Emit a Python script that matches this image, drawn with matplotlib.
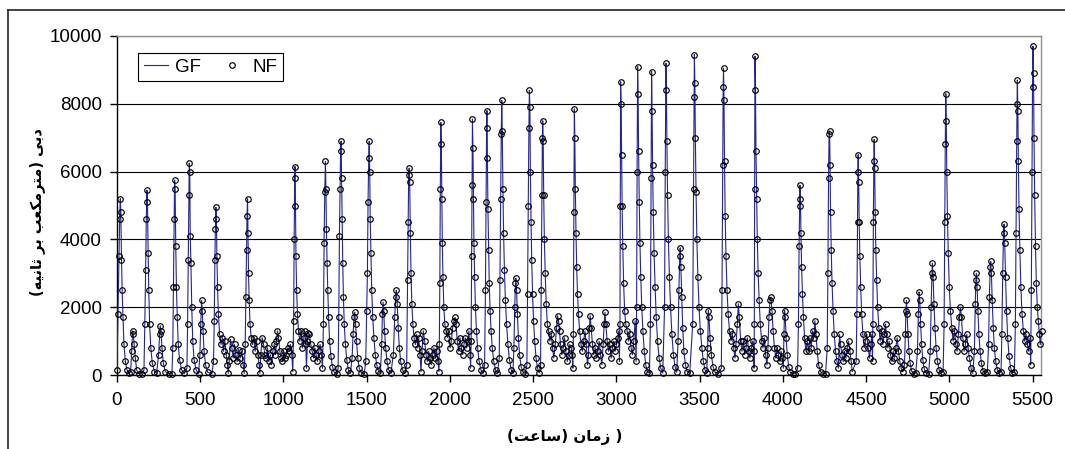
import matplotlib
matplotlib.use("Agg")
import matplotlib.pyplot as plt
from matplotlib.lines import Line2D

# hourly discharge (key points of each hydrograph)
hours = [
    0, 6, 12, 16, 20, 23, 27, 31, 36, 42, 50, 60, 72, 82,
    88, 94, 98, 103, 110, 118, 130, 150, 162,
    167, 172, 176, 180, 183, 187, 191, 196, 203, 212, 225, 238,
    250, 256, 260, 264, 270, 278, 290, 310, 330,
    335, 339, 343, 346, 349, 353, 357, 362, 368, 376, 388, 405,
    420, 424, 428, 432, 434, 437, 440, 444, 449, 455, 463, 475, 490,
    498, 503, 508, 512, 517, 523, 532, 545, 570,
    580, 584, 588, 591, 594, 597, 600, 604, 609, 616, 625,
    632, 640, 648, 656, 663, 668, 674, 682, 690, 698, 706, 714, 722, 730, 740, 750, 758, 764,
    770, 774, 778, 781, 784, 787, 790, 794, 799, 806, 814, 822, 830, 838, 846, 854, 858,
    864, 872, 880, 888, 896, 904, 912, 920, 928, 936, 944, 952, 958, 964, 970, 978, 986, 994,
    1002, 1010, 1018, 1026, 1034, 1042, 1050, 1056,
    1061, 1064, 1067, 1069, 1072, 1075, 1079, 1084, 1090, 1098, 1106, 1114, 1122, 1128, 1134, 1138,
    1144, 1150, 1156, 1164, 1172, 1180, 1188, 1196, 1204, 1212, 1220, 1228, 1234,
    1240, 1244, 1248, 1252, 1255, 1258, 1262, 1266, 1271, 1277, 1285, 1294, 1305, 1320,
    1328, 1332, 1336, 1340, 1343, 1346, 1349, 1352, 1356, 1360, 1365, 1372, 1380, 1390, 1402,
    1412, 1418, 1424, 1428, 1433, 1439, 1446, 1455, 1468, 1485,
    1494, 1500, 1504, 1508, 1512, 1515, 1518, 1521, 1525, 1530, 1536, 1543, 1551, 1560, 1570, 1582,
    1590, 1594, 1598, 1602, 1607, 1614, 1622, 1632, 1645,
    1660, 1668, 1674, 1678, 1683, 1689, 1696, 1704, 1715, 1728,
    1740, 1745, 1749, 1752, 1755, 1758, 1762, 1766, 1771, 1777, 1784, 1792,
    1800, 1806, 1812, 1820, 1826, 1832, 1840, 1848, 1856, 1864, 1872, 1880, 1888, 1896, 1904, 1912, 1920, 1928, 1934,
    1936, 1939, 1942, 1945, 1948, 1951, 1954, 1958, 1963, 1969, 1976, 1984, 1992, 2000, 2008, 2016,
    2024, 2030, 2036, 2044, 2052, 2060, 2068, 2076, 2084, 2092, 2100, 2108, 2114, 2120, 2124,
    2127, 2130, 2133, 2135, 2138, 2141, 2144, 2148, 2153, 2159, 2166, 2175, 2186, 2198,
    2208, 2213, 2217, 2220, 2222, 2225, 2228, 2232, 2236, 2241, 2247, 2254, 2263, 2274, 2285,
    2296, 2300, 2304, 2308, 2311, 2314, 2318, 2322, 2327, 2333, 2340, 2348, 2357, 2368, 2378,
    2384, 2389, 2393, 2396, 2400, 2405, 2411, 2418, 2427, 2438, 2452,
    2462, 2466, 2470, 2474, 2477, 2480, 2483, 2487, 2491, 2496, 2502, 2509, 2517, 2526, 2536,
    2544, 2548, 2552, 2555, 2557, 2560, 2563, 2567, 2572, 2578, 2585, 2592, 2600,
    2608, 2616, 2624, 2632, 2640, 2646, 2652, 2658, 2664, 2672, 2680, 2688, 2696, 2704, 2712, 2720, 2728, 2734, 2738,
    2741, 2744, 2747, 2750, 2753, 2757, 2761, 2766, 2772, 2779, 2787, 2795, 2803, 2811, 2818, 2826,
    2832, 2838, 2842, 2848, 2856, 2864, 2872, 2880, 2888, 2896, 2904, 2912, 2920, 2926,
    2931, 2936, 2944, 2952, 2960, 2968, 2976, 2984, 2992, 3000, 3008, 3014, 3018,
    3021, 3023, 3025, 3028, 3031, 3034, 3038, 3043, 3049, 3056, 3064, 3072, 3080, 3088, 3096, 3104, 3112, 3118,
    3121, 3124, 3127, 3130, 3133, 3137, 3141, 3146, 3152, 3159, 3167, 3176, 3186, 3198,
    3204, 3208, 3211, 3214, 3217, 3221, 3226, 3232, 3239, 3247, 3256, 3266, 3278,
    3289, 3293, 3297, 3300, 3303, 3307, 3312, 3318, 3325, 3333, 3342, 3352, 3362,
    3370, 3375, 3380, 3383, 3387, 3392, 3398, 3405, 3414, 3425, 3440,
    3458, 3463, 3466, 3468, 3471, 3474, 3478, 3483, 3489, 3496, 3504, 3513, 3522, 3532, 3542,
    3548, 3552, 3556, 3562, 3570, 3580, 3592, 3612, 3630,
    3634, 3638, 3641, 3643, 3646, 3649, 3653, 3658, 3664, 3671, 3679, 3688,
    3696, 3704, 3712, 3718, 3726, 3732, 3738, 3746, 3754, 3762, 3770, 3778, 3786, 3794, 3802, 3810, 3818, 3824, 3826,
    3828, 3830, 3832, 3835, 3838, 3842, 3846, 3851, 3857, 3864, 3872, 3880, 3888, 3896, 3904,
    3910, 3916, 3922, 3928, 3934, 3941, 3949, 3957, 3965, 3973, 3981, 3989, 3996, 4002,
    4006, 4010, 4014, 4019, 4026, 4034, 4044, 4058, 4075, 4088,
    4093, 4097, 4100, 4102, 4105, 4108, 4112, 4117, 4123, 4130, 4138, 4146,
    4154, 4162, 4170, 4178, 4186, 4192, 4198, 4206, 4214, 4226, 4240, 4256,
    4266, 4270, 4274, 4277, 4280, 4283, 4286, 4290, 4295, 4301, 4308, 4316, 4325, 4333,
    4340, 4346, 4354, 4362, 4370, 4378, 4386, 4394, 4402, 4410, 4416,
    4440, 4444, 4448, 4450, 4452, 4455, 4458, 4462, 4467, 4473, 4480, 4488, 4496, 4504, 4512, 4520, 4528, 4534, 4538,
    4540, 4543, 4546, 4548, 4551, 4554, 4558, 4563, 4569, 4576, 4584, 4592, 4600, 4608,
    4616, 4622, 4630, 4638, 4646, 4654, 4662, 4670, 4678, 4686, 4694, 4702, 4710, 4720,
    4730, 4735, 4739, 4742, 4746, 4751, 4757, 4764, 4773, 4785, 4798,
    4808, 4813, 4818, 4822, 4827, 4833, 4840, 4849, 4860, 4875,
    4885, 4890, 4895, 4898, 4902, 4907, 4913, 4920, 4928, 4938, 4950, 4962,
    4968, 4972, 4975, 4978, 4981, 4984, 4988, 4993, 4999, 5006, 5014, 5022, 5030, 5038,
    5046, 5054, 5060, 5066, 5072, 5080, 5088, 5096, 5104, 5112, 5120, 5130, 5140,
    5150, 5155, 5159, 5162, 5166, 5171, 5177, 5184, 5192, 5202, 5215, 5228,
    5235, 5240, 5245, 5248, 5252, 5257, 5263, 5270, 5278, 5288, 5300, 5310,
    5315, 5320, 5325, 5328, 5332, 5337, 5343, 5350, 5358, 5367, 5378, 5390,
    5396, 5400, 5404, 5406, 5408, 5411, 5414, 5418, 5423, 5429, 5436, 5444, 5452, 5460, 5468, 5476, 5484, 5488,
    5492, 5496, 5499, 5502, 5505, 5508, 5512, 5517, 5522, 5528, 5534, 5540, 5546, 5554,
]
gf = [
    150, 1800, 3500, 4600, 5200, 4800, 3400, 2500, 1700, 900, 400, 150, 50, 100,
    700, 1300, 1200, 900, 500, 150, 40, 30, 150,
    1500, 3100, 4600, 5450, 5100, 3600, 2500, 1500, 800, 350, 100, 60,
    600, 1200, 1450, 1300, 800, 350, 100, 40, 40,
    800, 2600, 4600, 5750, 5500, 3800, 2600, 1700, 900, 450, 150, 50,
    200, 1500, 3400, 5300, 6250, 6000, 4100, 3300, 2000, 1000, 450, 150, 40,
    600, 1500, 2200, 1900, 1300, 700, 300, 80, 30,
    400, 1600, 3400, 4300, 4950, 4600, 3500, 2600, 1800, 1200, 900,
    1100, 700, 1000, 600, 300, 50, 400, 1050, 800, 500, 900, 600, 400, 750, 500, 700, 300, 50,
    900, 2300, 3700, 4700, 5200, 4200, 3000, 2200, 1500, 1100, 900, 1100, 700, 1000, 600, 300, 50,
    600, 1100, 900, 600, 500, 800, 400, 600, 300, 700, 900, 600, 1000, 1300, 1100, 700, 500, 400,
    700, 500, 600, 800, 700, 900, 600, 100,
    1600, 4000, 5800, 6150, 5000, 3500, 2500, 1800, 1300, 1000, 1300, 800, 1100, 1300, 900, 200,
    1000, 1250, 1200, 900, 700, 500, 800, 600, 400, 700, 900, 600, 200,
    1500, 3900, 5400, 6300, 5500, 4300, 3300, 2500, 1700, 1000, 550, 250, 80, 40,
    200, 1700, 4100, 5500, 6600, 6900, 5800, 4600, 3300, 2300, 1500, 900, 450, 150, 50,
    500, 1200, 1700, 1850, 1500, 1000, 500, 200, 50, 30,
    400, 1900, 3000, 5100, 6400, 6900, 6000, 4600, 3600, 2500, 1700, 1100, 600, 300, 120, 50,
    900, 1800, 2150, 1900, 1300, 800, 400, 150, 60,
    600, 1700, 2300, 2500, 2100, 1400, 800, 400, 150, 50,
    300, 2800, 4500, 5900, 6100, 5700, 4200, 3000, 2100, 1500, 1100, 900,
    1200, 800, 1100, 600, 100, 700, 1300, 1000, 600, 400, 700, 500, 300, 600, 800, 500, 700, 400, 100,
    900, 2700, 5500, 7450, 6800, 5200, 3900, 2900, 2000, 1500, 1300, 1100, 1300, 800, 1000, 1400,
    1600, 1700, 1500, 1000, 700, 1100, 800, 600, 900, 1100, 800, 1000, 1300, 600, 200,
    1000, 3500, 5600, 7550, 6700, 5200, 3900, 2900, 2000, 1300, 800, 400, 150, 50,
    300, 2500, 5100, 7300, 7800, 6400, 4900, 3700, 2700, 1900, 1300, 800, 400, 150, 60,
    500, 2800, 5200, 7100, 8100, 7200, 5500, 4200, 3100, 2200, 1500, 900, 450, 150, 50,
    800, 2000, 2700, 2850, 2500, 1800, 1100, 600, 250, 100, 40,
    300, 2400, 5000, 7300, 8400, 7900, 6000, 4500, 3400, 2400, 1600, 1000, 500, 200, 60,
    300, 2500, 5300, 7000, 7500, 6900, 5300, 4000, 3000, 2100, 1500, 1300, 1000,
    1200, 800, 500, 900, 1400, 1750, 1600, 1300, 900, 600, 800, 1100, 700, 400, 600, 900, 800, 600, 200,
    1200, 4800, 7850, 7000, 5500, 4200, 3200, 2400, 1800, 1300, 900, 700, 1000, 1300, 900, 300,
    600, 1400, 1750, 1400, 900, 600, 800, 500, 700, 1000, 600, 300, 900, 1500,
    1850, 1500, 1000, 700, 900, 500, 800, 1000, 700, 900, 1100, 1300, 400,
    1500, 5000, 8650, 8000, 6500, 5000, 3800, 2700, 1900, 1500, 1300, 1000, 1200, 800, 600, 1000, 1600, 400,
    2000, 6000, 9100, 8300, 6600, 5100, 3900, 2900, 2000, 1300, 700, 300, 100, 50,
    1500, 5800, 8950, 7800, 6200, 4800, 3600, 2600, 1700, 1000, 500, 200, 60,
    2000, 6000, 9200, 8400, 6900, 5300, 4000, 2900, 2000, 1200, 600, 250, 80,
    1000, 2500, 3500, 3750, 3200, 2300, 1400, 700, 300, 100, 50,
    1500, 5500, 8200, 9450, 8600, 7000, 5400, 4000, 2900, 2000, 1300, 800, 400, 150, 60,
    800, 1900, 1700, 1100, 600, 250, 80, 40, 200,
    2500, 6200, 8500, 9050, 8100, 6300, 4700, 3500, 2500, 1800, 1300, 1000,
    1200, 800, 500, 900, 1500, 2100, 1700, 1000, 700, 1000, 600, 800, 1100, 700, 500, 800, 1000, 700, 200,
    1500, 5500, 9400, 8400, 6600, 5200, 4000, 3000, 2200, 1500, 1000, 800, 1100, 600, 300,
    800, 1700, 2200, 2300, 1900, 1300, 800, 500, 800, 600, 400, 700, 500, 200,
    1200, 1900, 1700, 1100, 600, 250, 80, 40, 40, 200,
    1500, 3800, 5000, 5600, 5200, 4200, 3200, 2400, 1700, 1100, 700, 1000,
    700, 1100, 800, 1300, 1100, 1600, 1200, 700, 300, 100, 40, 40,
    800, 3000, 5800, 7100, 7200, 6200, 4800, 3700, 2700, 1900, 1200, 700, 400, 200,
    1200, 900, 600, 400, 700, 500, 800, 1000, 700, 400, 100,
    400, 1800, 4500, 6000, 6500, 5700, 4500, 3500, 2600, 1800, 1200, 800, 1000, 1200, 800, 500, 900, 1200, 400,
    1500, 4500, 6300, 6950, 6100, 4800, 3700, 2800, 2000, 1400, 1000, 1300, 900, 1200,
    1500, 1200, 800, 1000, 600, 400, 700, 500, 800, 1100, 700, 400, 200, 100,
    300, 1200, 1900, 2200, 1800, 1200, 700, 350, 120, 40, 60,
    700, 1800, 2450, 2200, 1500, 900, 450, 180, 60, 40,
    700, 2000, 3000, 3300, 2900, 2100, 1400, 800, 400, 150, 50, 100,
    1500, 4500, 6800, 8300, 7500, 6000, 4700, 3600, 2600, 1900, 1400, 1000, 1300, 900,
    700, 1200, 1700, 2000, 1700, 1100, 700, 900, 1200, 800, 500, 200, 50,
    700, 2100, 2800, 3000, 2600, 1900, 1200, 700, 350, 120, 50, 100,
    900, 2300, 3200, 3350, 3000, 2200, 1400, 800, 400, 150, 50, 100,
    1200, 3000, 4200, 4450, 3900, 2900, 1900, 1100, 550, 220, 70, 80,
    1500, 4200, 6900, 8000, 8700, 7800, 6300, 4900, 3700, 2600, 1800, 1300, 1000, 1200, 900, 700, 1100, 300,
    2500, 6000, 8500, 9700, 8900, 7000, 5300, 3800, 2700, 2000, 1600, 1200, 900, 1300,
]
nf = gf
y_ticks = [0, 2000, 4000, 6000, 8000, 10000]
x_ticks = [0, 500, 1000, 1500, 2000, 2500, 3000, 3500, 4000, 4500, 5000, 5500]

# Persian labels written in visual order with presentation forms (no shaping in mpl)
ylabel_fa = ("(\uFEEA\uFBFF\uFEE7\uFE8E\uFE9B \uFEAE\uFE91 "
             "\uFE90\uFECC\uFB91\uFEE3\uFEAE\uFE98\uFEE3) \uFBFD\uFE91\uFEA9")
xlabel_fa = "(\uFE96\uFECB\uFE8E\uFEB3) \uFEE5\uFE8E\uFEE3\uFEAF )"

plt.rcParams["font.family"] = ["Liberation Sans", "DejaVu Sans"]

fig = plt.figure(figsize=(10.65, 4.49), dpi=100)
ax = fig.add_axes([117 / 1065, 1 - 375 / 449, 924 / 1065, 339 / 449])

ax.plot(hours, gf, color="#23239a", lw=0.8, label="GF", zorder=3)
ax.plot(hours, nf, ls="none", marker="o", ms=4.0, mfc="none", mec="black",
        mew=0.85, label="NF", zorder=4, clip_on=False)

ax.set_xlim(0, 5550)
ax.set_ylim(0, 10000)
ax.set_xticks(x_ticks)
ax.set_yticks(y_ticks)
ax.tick_params(axis="both", direction="out", length=5, width=1, labelsize=13.5, color="black")
ax.tick_params(axis="x", pad=7)
ax.tick_params(axis="y", pad=6)
ax.grid(axis="y", color="black", lw=0.8)
ax.set_axisbelow(True)
for s in ["left", "bottom"]:
    ax.spines[s].set_color("black")
    ax.spines[s].set_linewidth(1.0)
for s in ["top", "right"]:
    ax.spines[s].set_color("#909090")
    ax.spines[s].set_linewidth(1.0)

leg = ax.legend(loc="upper left", bbox_to_anchor=(0.0227, 0.95), borderaxespad=0,
                ncol=2, fontsize=13.5, frameon=True, fancybox=False, framealpha=1,
                edgecolor="black", handlelength=1.3, handletextpad=0.4,
                columnspacing=1.0, borderpad=0.3)
leg.get_frame().set_linewidth(0.8)

fig.text(37 / 1065, 1 - 212 / 449, ylabel_fa, rotation=90, ha="center", va="center",
         fontsize=10.5, fontweight="bold", family=["DejaVu Sans"])
fig.text(565 / 1065, 1 - 437 / 449, xlabel_fa, ha="center", va="center",
         fontsize=11, fontweight="bold", family=["DejaVu Sans"])

# outer chart-area frame (cropped at right and bottom)
fig.add_artist(Line2D([8 / 1065, 8 / 1065], [0, 1 - 10 / 449], transform=fig.transFigure,
                      color="#222222", lw=1.2))
fig.add_artist(Line2D([8 / 1065, 1], [1 - 10 / 449, 1 - 10 / 449], transform=fig.transFigure,
                      color="#222222", lw=1.2))

fig.savefig("out.png", dpi=100)
